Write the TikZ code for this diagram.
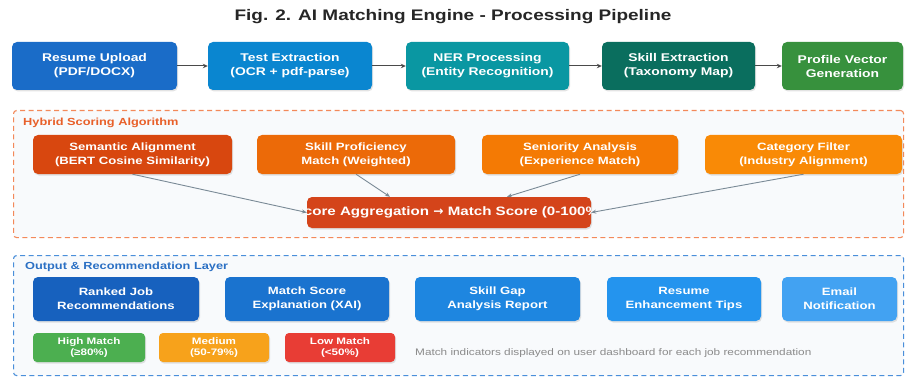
\documentclass[tikz,border=0pt]{standalone}
\usepackage{fontspec}
\setmainfont[FakeStretch=1.24]{Liberation Sans}
\newfontfamily\arrowfont{DejaVu Sans}
\usetikzlibrary{arrows.meta,shadows,calc}

% stage colours
\definecolor{cUpload}{HTML}{1A6CC8}
\definecolor{cTextEx}{HTML}{0A86D0}
\definecolor{cNer}{HTML}{0A97A2}
\definecolor{cSkill}{HTML}{0A6E5E}
\definecolor{cProfile}{HTML}{37913D}
% scoring colours
\definecolor{cSem}{HTML}{D8470F}
\definecolor{cProf}{HTML}{EC6A08}
\definecolor{cSen}{HTML}{F47A04}
\definecolor{cCat}{HTML}{F98A06}
\definecolor{cAgg}{HTML}{D4441A}
% output colours
\definecolor{cOutA}{HTML}{1761BE}
\definecolor{cOutB}{HTML}{1A73CF}
\definecolor{cOutC}{HTML}{1E86E0}
\definecolor{cOutD}{HTML}{2494EE}
\definecolor{cOutE}{HTML}{42A2F2}
% badges
\definecolor{cHigh}{HTML}{4CAF50}
\definecolor{cMed}{HTML}{F7A21B}
\definecolor{cLow}{HTML}{E83D35}
% panels and lines
\definecolor{cPanel}{HTML}{F8FAFC}
\definecolor{cHybBorder}{HTML}{F3895A}
\definecolor{cOutBorder}{HTML}{4A8FDA}
\definecolor{cHybLabel}{HTML}{E8602A}
\definecolor{cOutLabel}{HTML}{2B70C4}
\definecolor{cFlow}{HTML}{4A4A4A}
\definecolor{cFeed}{HTML}{7A8A96}
\definecolor{cNote}{HTML}{8A8A8A}

\tikzset{
  box/.style={rounded corners=5pt, inner sep=0pt, text=white, align=center,
    drop shadow={opacity=0.22, shadow xshift=1pt, shadow yshift=-1.5pt}},
  stagebox/.style={box, minimum height=48pt, font=\fontsize{11.2}{14}\selectfont\bfseries},
  scorebox/.style={box, minimum height=39pt, font=\fontsize{10.6}{14.3}\selectfont\bfseries},
  outbox/.style={box, minimum height=44pt, font=\fontsize{10.6}{14}\selectfont\bfseries},
  badge/.style={box, rounded corners=4pt, minimum height=29pt,
    font=\fontsize{9.4}{11.6}\selectfont\bfseries},
  panel/.style={rounded corners=3pt, fill=cPanel, dash pattern=on 5pt off 3.5pt,
    line width=1.1pt, inner sep=0pt, anchor=north west},
  flow/.style={draw=cFlow, line width=1pt, -{Stealth[length=5pt,width=4.5pt]}},
  feed/.style={draw=cFeed, line width=0.9pt, -{Stealth[length=5pt,width=4pt]}},
  panellabel/.style={anchor=west, inner sep=0pt, font=\fontsize{10.3}{12}\selectfont\bfseries},
}

\begin{document}
\begin{tikzpicture}[x=1pt,y=-1pt]
\fill[white] (0,0) rectangle (907,377);
\useasboundingbox (0,0) rectangle (907,377);

% title
\node[font=\fontsize{15.3}{18}\selectfont\bfseries, text=black!85, inner sep=0pt]
  (title) at (453,17) {Fig. 2. AI Matching Engine - Processing Pipeline};

% processing pipeline
\node[stagebox, fill=cUpload,  minimum width=165pt] (upload)  at (94.5,66)  {Resume Upload\\(PDF/DOCX)};
\node[stagebox, fill=cTextEx,  minimum width=164pt] (textex)  at (290,66)   {Test Extraction\\(OCR + pdf-parse)};
\node[stagebox, fill=cNer,     minimum width=163pt] (ner)     at (487.5,66) {NER Processing\\(Entity Recognition)};
\node[stagebox, fill=cSkill,   minimum width=153pt] (skill)   at (678.5,66) {Skill Extraction\\(Taxonomy Map)};
\node[stagebox, fill=cProfile, minimum width=121pt] (profile) at (842.5,66) {Profile Vector\\Generation};

\draw[flow] (upload) -- (textex);
\draw[flow] (textex) -- (ner);
\draw[flow] (ner) -- (skill);
\draw[flow] (skill) -- (profile);

% hybrid scoring panel
\node[panel, draw=cHybBorder, minimum width=890pt, minimum height=127pt] (hybrid) at (13,110) {};
\node[panellabel, text=cHybLabel] (hyblabel) at (23,123) {Hybrid Scoring Algorithm};

\node[scorebox, fill=cSem,  minimum width=199pt] (sem)  at (132.5,154.5) {Semantic Alignment\\(BERT Cosine Similarity)};
\node[scorebox, fill=cProf, minimum width=198pt] (prof) at (356,154.5)   {Skill Proficiency\\Match (Weighted)};
\node[scorebox, fill=cSen,  minimum width=196pt] (sen)  at (580,154.5)   {Seniority Analysis\\(Experience Match)};
\node[scorebox, fill=cCat,  minimum width=197pt] (cat)  at (803.5,154.5) {Category Filter\\(Industry Alignment)};

% aggregation box; its label is wider than the box and is cut at the edges
\node[box, fill=cAgg, minimum width=284pt, minimum height=31pt] (agg) at (449,212.5) {};
\begin{scope}
  \clip[rounded corners=5pt] (agg.south west) rectangle (agg.north east);
  \node[inner sep=0pt, text=white, font=\fontsize{12.2}{14}\selectfont\bfseries]
    (aggtext) at (agg.center) {Score Aggregation {\arrowfont →} Match Score (0-100\%)};
\end{scope}

\coordinate (aggL) at ([xshift=-59pt]agg.north);
\coordinate (aggR) at ([xshift=58pt]agg.north);
\draw[feed] (sem.south) -- (agg.west);
\draw[feed] (prof.south) -- (aggL);
\draw[feed] (sen.south) -- (aggR);
\draw[feed] (cat.south) -- (agg.east);

% output and recommendation panel
\node[panel, draw=cOutBorder, minimum width=890pt, minimum height=120pt] (output) at (13,255) {};
\node[panellabel, text=cOutLabel] (outlabel) at (25,267) {Output \& Recommendation Layer};

\node[outbox, fill=cOutA, minimum width=166pt] (ranked)  at (116,299)   {Ranked Job\\Recommendations};
\node[outbox, fill=cOutB, minimum width=164pt] (explain) at (307,299)   {Match Score\\Explanation (XAI)};
\node[outbox, fill=cOutC, minimum width=165pt] (gap)     at (497.5,299) {Skill Gap\\Analysis Report};
\node[outbox, fill=cOutD, minimum width=154pt] (tips)    at (684,299)   {Resume\\Enhancement Tips};
\node[outbox, fill=cOutE, minimum width=115pt] (email)   at (839.5,299) {Email\\Notification};

\node[badge, fill=cHigh, minimum width=112pt] (high) at (89,347.5)  {High Match\\(≥80\%)};
\node[badge, fill=cMed,  minimum width=110pt] (med)  at (214,347.5) {Medium\\(50-79\%)};
\node[badge, fill=cLow,  minimum width=110pt] (low)  at (340,347.5) {Low Match\\(<50\%)};

\node[anchor=west, inner sep=0pt, text=cNote, font=\fontsize{9.5}{11}\selectfont]
  (note) at (415,353) {Match indicators displayed on user dashboard for each job recommendation};
\end{tikzpicture}
\end{document}
